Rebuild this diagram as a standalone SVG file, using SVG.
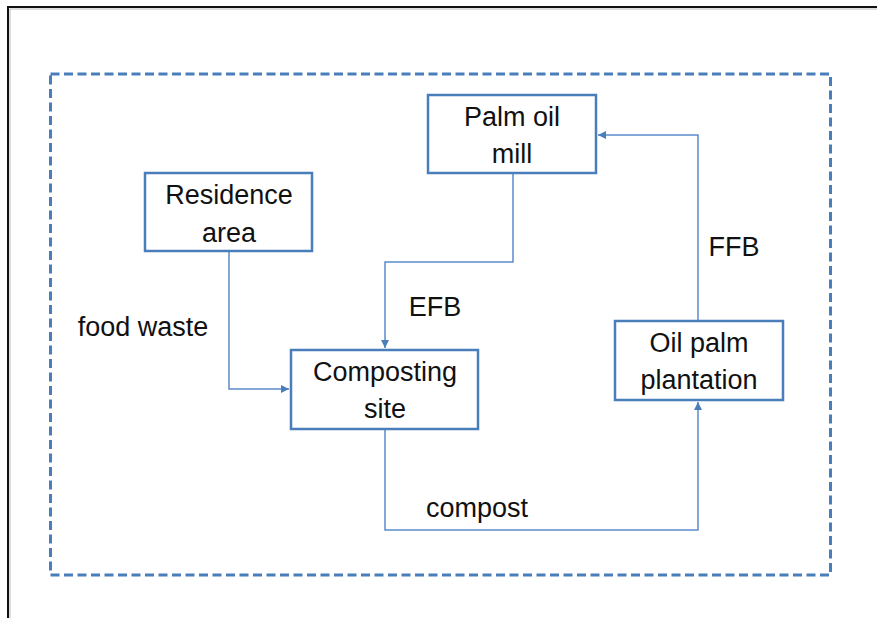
<svg xmlns="http://www.w3.org/2000/svg" width="877" height="618" viewBox="0 0 877 618">
<style>
.box{fill:#fff;stroke:#4a7ebb;stroke-width:2.5}
.lbl{font-family:"Liberation Sans",Arial,sans-serif;font-size:27px;fill:#111;text-anchor:middle}
.edge{fill:none;stroke:#5b8bc9;stroke-width:1.5}
</style>
<defs>
<marker id="arr" viewBox="0 0 10 10" refX="10" refY="5" markerWidth="8" markerHeight="8" markerUnits="userSpaceOnUse" orient="auto">
<path d="M0,0 L10,5 L0,10 z" fill="#4a7ebb"/>
</marker>
</defs>
<rect width="877" height="618" fill="#fff"/>
<g id="frame">
<path d="M8,618 V7 H877" fill="none" stroke="#111" stroke-width="2"/>
<path d="M10,618 V9 H877" fill="none" stroke="#bbb" stroke-width="1"/>
</g>
<g id="boundary">
<rect x="50.5" y="74" width="780" height="501" fill="none" stroke="#4a7ebb" stroke-width="3" stroke-dasharray="9 4.5"/>
</g>
<g id="connectors">
<path class="edge" d="M229,251 V389 H289" marker-end="url(#arr)"/>
<path class="edge" d="M513,173 V262 H385 V348" marker-end="url(#arr)"/>
<path class="edge" d="M385,429 V530 H698 V402" marker-end="url(#arr)"/>
<path class="edge" d="M698,321 V135 H598" marker-end="url(#arr)"/>
<text class="lbl" x="143" y="336">food waste</text>
<text class="lbl" x="435" y="316">EFB</text>
<text class="lbl" x="477" y="517">compost</text>
<text class="lbl" x="734" y="256">FFB</text>
</g>
<g id="mill">
<rect class="box" x="428" y="95" width="168" height="78"/>
<text class="lbl" x="512" y="126">Palm oil</text>
<text class="lbl" x="512" y="163">mill</text>
</g>
<g id="residence">
<rect class="box" x="145" y="173" width="167" height="78"/>
<text class="lbl" x="229" y="204">Residence</text>
<text class="lbl" x="229" y="242">area</text>
</g>
<g id="composting">
<rect class="box" x="291" y="350" width="187" height="79"/>
<text class="lbl" x="385" y="381">Composting</text>
<text class="lbl" x="385" y="418">site</text>
</g>
<g id="plantation">
<rect class="box" x="615" y="321" width="168" height="79"/>
<text class="lbl" x="699" y="352">Oil palm</text>
<text class="lbl" x="699" y="389">plantation</text>
</g>
</svg>
